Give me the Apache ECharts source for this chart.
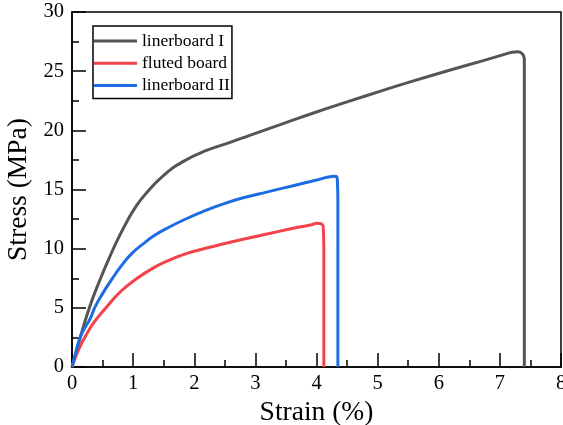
<!DOCTYPE html>
<html>
<head>
<meta charset="utf-8">
<script src="https://cdn.jsdelivr.net/npm/echarts@6/dist/echarts.min.js"></script>
<style>
    html, body { margin: 0; padding: 0; background: #fff; }
    #chart { width: 563px; height: 425px; }
</style>
</head>
<body>
<div id="chart"></div>
<script>
// series names
const seriesNames = ['linerboard I', 'fluted board', 'linerboard II']

// linerboard I
const strainLinerI = [0, 0.07, 0.14, 0.29, 0.46, 0.6, 0.75, 0.9, 1.05, 1.2, 1.5, 1.83, 2.2, 2.6, 2.92, 3.5, 4.0, 4.5, 5.1, 5.6, 6.19, 6.7, 7.06, 7.2, 7.3, 7.37, 7.4, 7.4]
const stressLinerI = [0, 1.3, 2.6, 5.1, 7.4, 9.1, 10.8, 12.3, 13.6, 14.6, 16.2, 17.4, 18.3, 19.0, 19.6, 20.65, 21.55, 22.4, 23.4, 24.2, 25.1, 25.85, 26.4, 26.6, 26.65, 26.45, 26.0, 0]

// fluted board
const strainFluted = [0, 0.05, 0.12, 0.22, 0.35, 0.57, 0.8, 1.04, 1.34, 1.6, 1.88, 2.2, 2.43, 2.8, 3.25, 3.6, 3.9, 4.01, 4.08, 4.11, 4.12, 4.12]
const stressFluted = [0, 0.7, 1.6, 2.6, 3.7, 5.1, 6.4, 7.4, 8.4, 9.05, 9.6, 10.05, 10.35, 10.8, 11.3, 11.7, 12.0, 12.15, 12.1, 11.8, 10, 0]

// linerboard II
const strainLinerII = [0, 0.05, 0.14, 0.22, 0.29, 0.38, 0.5, 0.65, 0.8, 0.98, 1.2, 1.34, 1.6, 1.88, 2.15, 2.43, 2.8, 3.2, 3.6, 4.0, 4.25, 4.31, 4.34, 4.35, 4.35]
const stressLinerII = [0, 1.0, 2.6, 3.4, 4.0, 5.1, 6.2, 7.4, 8.5, 9.6, 10.55, 11.1, 11.85, 12.55, 13.15, 13.7, 14.3, 14.8, 15.3, 15.8, 16.1, 16.12, 15.9, 14, 0]

const colors = ['#555555', '#f2424a', '#1c6ee0']

const zip = (xs, ys) => xs.map((x, i) => [x, ys[i]])

const chart = echarts.init(document.getElementById('chart'))

const font = 'Liberation Serif'

const axisCommon = {
    type: 'value',
    nameLocation: 'middle',
    nameTextStyle: { fontFamily: font, fontSize: 27.5, color: '#000' },
    axisLine: { show: true, onZero: false, lineStyle: { color: '#000', width: 1.5 } },
    axisTick: { show: true, inside: true, length: 14, lineStyle: { color: '#000', width: 1.5 } },
    minorTick: { show: true, splitNumber: 2, length: 7, lineStyle: { color: '#000', width: 1.5 } },
    axisLabel: { fontFamily: font, fontSize: 20.5, color: '#000' },
    splitLine: { show: false }
}

const makeSeries = (i, xs, ys) => ({
    name: seriesNames[i],
    type: 'line',
    data: zip(xs, ys),
    smooth: 0.5,
    symbol: 'none',
    lineStyle: { color: colors[i], width: 3 },
    itemStyle: { color: colors[i] }
})

const option = {
    animation: false,
    backgroundColor: '#fff',
    grid: {
        left: 72,
        right: 2,
        top: 12,
        bottom: 58,
        outerBoundsMode: 'none',
        containLabel: false,
        show: true,
        borderColor: '#000',
        borderWidth: 1.5
    },
    legend: {
        data: seriesNames,
        orient: 'vertical',
        left: 93,
        top: 26,
        icon: 'rect',
        itemWidth: 43,
        itemHeight: 3,
        itemGap: 4.2,
        padding: [6, 2, 4, 1],
        borderColor: '#000',
        borderWidth: 1.5,
        textStyle: { fontFamily: font, fontSize: 17.5, color: '#000', lineHeight: 17.5 }
    },
    xAxis: Object.assign({}, axisCommon, {
        name: 'Strain (%)',
        nameGap: 27,
        min: 0,
        max: 8,
        interval: 1,
        axisLabel: Object.assign({}, axisCommon.axisLabel, { margin: 6 })
    }),
    yAxis: Object.assign({}, axisCommon, {
        name: 'Stress (MPa)',
        nameGap: 36,
        min: 0,
        max: 30,
        interval: 5,
        axisLabel: Object.assign({}, axisCommon.axisLabel, { margin: 8 })
    }),
    series: [
        makeSeries(0, strainLinerI, stressLinerI),
        makeSeries(1, strainFluted, stressFluted),
        makeSeries(2, strainLinerII, stressLinerII)
    ]
}

chart.setOption(option)
</script>
</body>
</html>
